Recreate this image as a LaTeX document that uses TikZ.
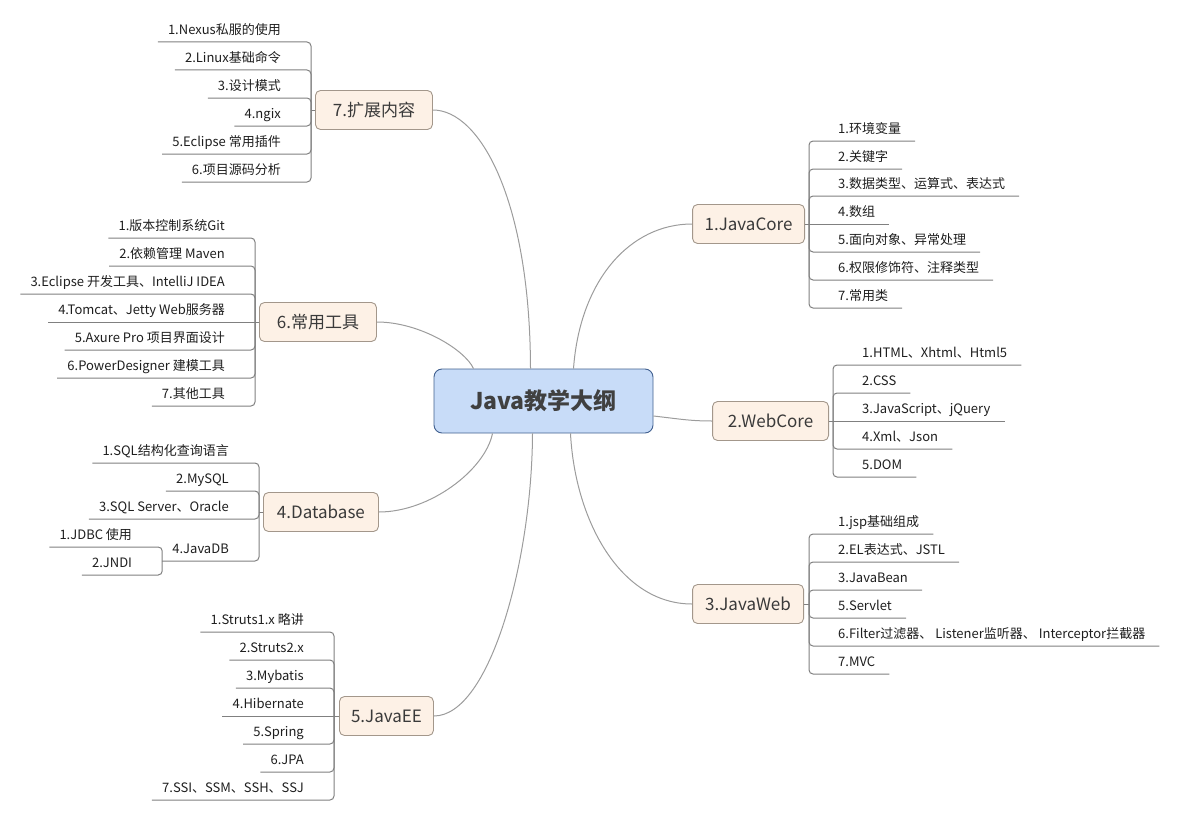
\documentclass[tikz,border=0pt]{standalone}
\usepackage{fontspec}
\setmainfont{Noto Sans CJK SC}
\definecolor{curvec}{HTML}{9C9C9C}
\definecolor{brkc}{HTML}{808080}
\definecolor{topicb}{HTML}{A3978B}
\definecolor{topicf}{HTML}{FDF1E6}
\definecolor{topict}{HTML}{3A3A3A}
\definecolor{cb}{HTML}{41608F}
\definecolor{cf}{HTML}{C8DCF8}
\definecolor{ct}{HTML}{404040}
\definecolor{itemc}{HTML}{1E1E1E}
\begin{document}
\begin{tikzpicture}[x=1pt,y=-1pt,
  conn/.style={draw=curvec, line width=1pt},
  brk/.style={draw=brkc, line width=1pt, rounded corners=4pt},
  topic/.style={draw=topicb, fill=topicf, rounded corners=5pt, line width=0.9pt,
    inner xsep=4pt, inner ysep=0pt, minimum height=39pt,
    font=\fontsize{17pt}{20pt}\selectfont, text=topict},
  central/.style={draw=cb, fill=cf, rounded corners=8pt, line width=0.9pt,
    minimum width=219pt, minimum height=64pt,
    font=\fontsize{23pt}{27pt}\selectfont\bfseries, text=ct},
  itembase/.style={inner xsep=0pt, inner ysep=4pt, text height=10pt, text depth=3pt,
    font=\fontsize{13pt}{15pt}\selectfont, text=itemc},
  litem/.style={itembase, anchor=south east,
    execute at begin node={\hspace*{10pt}}, execute at end node={\hspace*{30pt}}},
  ritem/.style={itembase, anchor=south west,
    execute at begin node={\hspace*{29pt}}, execute at end node={\hspace*{14pt}}}]
\useasboundingbox (0,0) rectangle (1180,816);

% central
\node[central] (c) at (543.5,401) {Java教学大纲};

% main topics
\node[topic, anchor=east, minimum width=112pt] (g1) at (805,224) {1.JavaCore};
\node[topic, anchor=east, minimum width=116pt] (g2) at (829,421) {2.WebCore};
\node[topic, anchor=east, minimum width=111pt] (g3) at (804,604) {3.JavaWeb};
\node[topic, anchor=west, minimum width=115pt] (g4) at (263,512) {4.Database};
\node[topic, anchor=west, minimum width=94pt] (g5) at (339,716) {5.JavaEE};
\node[topic, anchor=west, minimum width=117pt] (g6) at (259,322) {6.常用工具};
\node[topic, anchor=west, minimum width=117pt] (g7) at (315,110) {7.扩展内容};

% curved connectors
\draw[conn] ([xshift=30pt]c.north) .. controls (580,280) and (630,224) .. (g1.west);
\draw[conn] ([yshift=-15pt]c.east) .. controls (680,419) and (690,421) .. (g2.west);
\draw[conn] ([xshift=27pt]c.south) .. controls (575,520) and (620,604) .. (g3.west);
\draw[conn] ([xshift=-51pt]c.south) .. controls (485,470) and (430,512) .. (g4.east);
\draw[conn] ([xshift=-11pt]c.south) .. controls (532,560) and (490,716) .. (g5.east);
\draw[conn] ([xshift=-70pt]c.north) .. controls (465,350) and (420,322) .. (g6.east);
\draw[conn] ([xshift=-13pt]c.north) .. controls (530,200) and (480,110) .. (g7.east);

% ---- 1.JavaCore
\coordinate (p1) at (809,224);
\draw[brk] (g1.east) -- (p1);
\node[ritem] (n11) at (809,141) {1.环境变量};
\node[ritem] (n12) at (809,169) {2.关键字};
\node[ritem] (n13) at (809,196) {3.数据类型、运算式、表达式};
\node[ritem] (n14) at (809,224) {4.数组};
\node[ritem] (n15) at (809,252) {5.面向对象、异常处理};
\node[ritem] (n16) at (809,280) {6.权限修饰符、注释类型};
\node[ritem] (n17) at (809,308) {7.常用类};
\foreach \n in {n11,n12,n13,n15,n16,n17} \draw[brk] (p1) |- (\n.south east);
\draw[brk] (p1) -- (n14.south east);

% ---- 2.WebCore
\coordinate (p2) at (833,421);
\draw[brk] (g2.east) -- (p2);
\node[ritem] (n21) at (833,365) {1.HTML、Xhtml、Html5};
\node[ritem] (n22) at (833,393) {2.CSS};
\node[ritem] (n23) at (833,421) {3.JavaScript、jQuery};
\node[ritem] (n24) at (833,449) {4.Xml、Json};
\node[ritem] (n25) at (833,477) {5.DOM};
\foreach \n in {n21,n22,n24,n25} \draw[brk] (p2) |- (\n.south east);
\draw[brk] (p2) -- (n23.south east);

% ---- 3.JavaWeb
\coordinate (p3) at (809,604);
\draw[brk] (g3.east) -- (p3);
\node[ritem] (n31) at (809,534) {1.jsp基础组成};
\node[ritem] (n32) at (809,562) {2.EL表达式、JSTL};
\node[ritem] (n33) at (809,590) {3.JavaBean};
\node[ritem] (n34) at (809,618) {5.Servlet};
\node[ritem] (n35) at (809,646) {6.Filter过滤器、 Listener监听器、 Interceptor拦截器};
\node[ritem] (n36) at (809,674) {7.MVC};
\foreach \n in {n31,n32,n33,n34,n35,n36} \draw[brk] (p3) |- (\n.south east);

% ---- 4.Database
\coordinate (p4) at (259,512);
\draw[brk] (g4.west) -- (p4);
\node[litem] (n41) at (259,463) {1.SQL结构化查询语言};
\node[litem] (n42) at (259,491) {2.MySQL};
\node[litem] (n43) at (259,519) {3.SQL Server、Oracle};
\node[litem] (n44) at (259,561) {4.JavaDB};
\foreach \n in {n41,n42,n43,n44} \draw[brk] (p4) |- (\n.south west);
\node[litem] (n441) at ([yshift=14pt]n44.south west) {1.JDBC 使用};
\node[litem] (n442) at ([yshift=-14pt]n44.south west) {2.JNDI};
\draw[brk] (n44.south west) |- (n441.south west);
\draw[brk] (n44.south west) |- (n442.south west);

% ---- 5.JavaEE
\coordinate (p5) at (334,716);
\draw[brk] (g5.west) -- (p5);
\node[litem] (n51) at (334,632) {1.Struts1.x 略讲};
\node[litem] (n52) at (334,660) {2.Struts2.x};
\node[litem] (n53) at (334,688) {3.Mybatis};
\node[litem] (n54) at (334,716) {4.Hibernate};
\node[litem] (n55) at (334,744) {5.Spring};
\node[litem] (n56) at (334,772) {6.JPA};
\node[litem] (n57) at (334,800) {7.SSI、SSM、SSH、SSJ};
\foreach \n in {n51,n52,n53,n55,n56,n57} \draw[brk] (p5) |- (\n.south west);
\draw[brk] (p5) -- (n54.south west);

% ---- 6.常用工具
\coordinate (p6) at (255,322);
\draw[brk] (g6.west) -- (p6);
\node[litem] (n61) at (255,238) {1.版本控制系统Git};
\node[litem] (n62) at (255,266) {2.依赖管理 Maven};
\node[litem] (n63) at (255,294) {3.Eclipse 开发工具、IntelliJ IDEA};
\node[litem] (n64) at (255,322) {4.Tomcat、Jetty Web服务器};
\node[litem] (n65) at (255,350) {5.Axure Pro 项目界面设计};
\node[litem] (n66) at (255,378) {6.PowerDesigner 建模工具};
\node[litem] (n67) at (255,406) {7.其他工具};
\foreach \n in {n61,n62,n63,n65,n66,n67} \draw[brk] (p6) |- (\n.south west);
\draw[brk] (p6) -- (n64.south west);

% ---- 7.扩展内容
\coordinate (p7) at (311,110);
\draw[brk] (g7.west) -- (p7);
\node[litem] (n71) at (311,42) {1.Nexus私服的使用};
\node[litem] (n72) at (311,70) {2.Linux基础命令};
\node[litem] (n73) at (311,98) {3.设计模式};
\node[litem] (n74) at (311,126) {4.ngix};
\node[litem] (n75) at (311,154) {5.Eclipse 常用插件};
\node[litem] (n76) at (311,182) {6.项目源码分析};
\foreach \n in {n71,n72,n73,n74,n75,n76} \draw[brk] (p7) |- (\n.south west);
\end{tikzpicture}
\end{document}
